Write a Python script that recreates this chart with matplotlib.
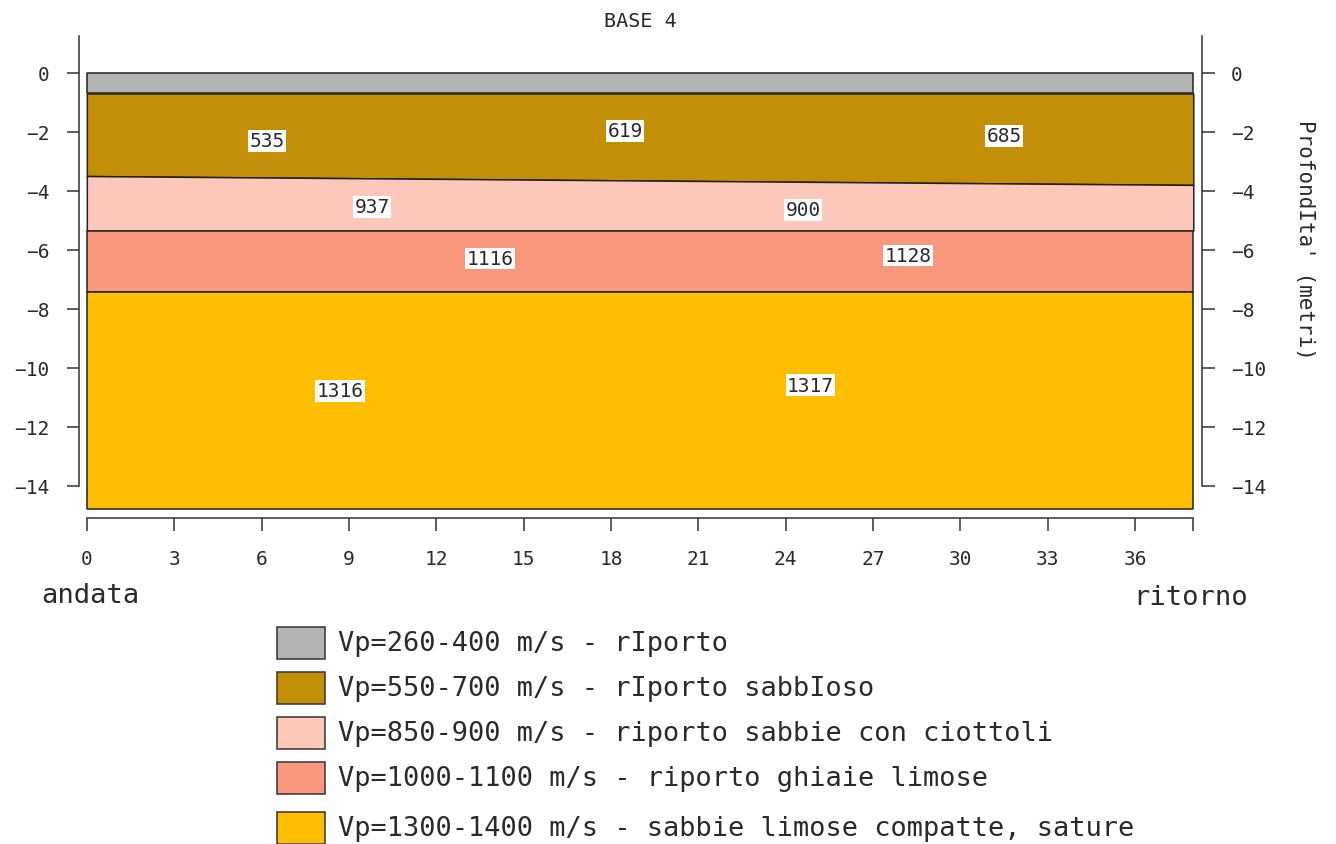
import numpy as np
import matplotlib.pyplot as plt
from matplotlib.patches import Rectangle

# section geometry (distance along the line, metres)
x_pts = [0, 19, 38]

# interface depths below the surface at each x point
surface = [0.0, 0.0, 0.0]
base_riporto = [-0.7, -0.7, -0.7]
base_sabbioso = [-3.5, -3.65, -3.8]
base_ciottoli = [-5.35, -5.35, -5.35]
base_ghiaie = [-7.45, -7.45, -7.45]
base_sature = [-14.8, -14.8, -14.8]

layer_colors = ['#b4b4b4', '#c48f08', '#fdc7b9', '#f9987d', '#ffbe00']
layer_labels = [
    "Vp=260-400 m/s - rIporto",
    "Vp=550-700 m/s - rIporto sabbIoso",
    "Vp=850-900 m/s - riporto sabbie con ciottoli",
    "Vp=1000-1100 m/s - riporto ghiaie limose",
    "Vp=1300-1400 m/s - sabbie limose compatte, sature",
]

# velocity values written inside the layers: (x, depth, value)
vel_x = [6.2, 18.5, 31.5, 9.8, 24.6, 13.85, 28.2, 8.7, 24.85]
vel_y = [-2.3, -1.97, -2.13, -4.54, -4.64, -6.3, -6.2, -10.78, -10.6]
vel_text = ['535', '619', '685', '937', '900', '1116', '1128', '1316', '1317']

x_ticks = list(range(0, 37, 3))
y_ticks = list(range(0, -15, -2))

FONT = 'DejaVu Sans Mono'
INK = '#333333'
TXT = '#2a2a2a'

fig = plt.figure(figsize=(13.36, 8.45), dpi=100)
ax = fig.add_axes([0.0591, 0.3858, 0.8406, 0.5704])

bounds = [surface, base_riporto, base_sabbioso, base_ciottoli, base_ghiaie, base_sature]
for i, color in enumerate(layer_colors):
    ax.fill_between(x_pts, bounds[i + 1], bounds[i], facecolor=color,
                    edgecolor='#222222', linewidth=1.1)

for x, y, t in zip(vel_x, vel_y, vel_text):
    ax.text(x, y, t, ha='center', va='center', fontsize=14, family=FONT,
            color=TXT,
            bbox=dict(facecolor='white', edgecolor='none', pad=1.0))

ax.set_xlim(-0.27, 38.3)
ax.set_ylim(-15.1, 1.25)

ax.spines['top'].set_visible(False)
for side in ['left', 'right', 'bottom']:
    ax.spines[side].set_color(INK)
    ax.spines[side].set_linewidth(1.1)
ax.spines['left'].set_bounds(-14, 1.25)
ax.spines['right'].set_bounds(-14, 1.25)
ax.spines['bottom'].set_bounds(0, 38)

ax.set_xticks(x_ticks + [38])
ax.set_xticklabels([str(v) for v in x_ticks] + [''])
ax.set_yticks(y_ticks)
ax.set_yticklabels([str(v).replace('-', '\u2212') for v in y_ticks])
ax.tick_params(axis='x', direction='out', length=9, width=1.1, color=INK,
               pad=13, labelsize=14, labelcolor=TXT)
ax.tick_params(axis='y', direction='out', length=9, width=1.1, color=INK,
               pad=12, labelsize=14, labelcolor=TXT,
               left=True, right=True, labelleft=True, labelright=True)
for lab in ax.get_xticklabels() + ax.get_yticklabels():
    lab.set_family(FONT)

ax.set_title('BASE 4', fontsize=14.5, family=FONT, color=TXT, pad=7)

fig.text(1305 / 1336, 1 - 240 / 845, "ProfondIta' (metri)", rotation=-90,
         ha='center', va='center', fontsize=15, family=FONT, color=TXT)
fig.text(90 / 1336, 1 - 596 / 845, 'andata', ha='center', va='center',
         fontsize=19.5, family=FONT, color=TXT)
fig.text(1191 / 1336, 1 - 598 / 845, 'ritorno', ha='center', va='center',
         fontsize=19.5, family=FONT, color=TXT)

# legend drawn as a column of swatches below the section
row_y = [644, 689, 734, 779, 829]
for color, label, yc in zip(layer_colors, layer_labels, row_y):
    fig.patches.append(Rectangle((277 / 1336, 1 - (yc + 16) / 845), 48 / 1336, 32 / 845,
                                 transform=fig.transFigure, facecolor=color,
                                 edgecolor='#333333', linewidth=1.1))
    fig.text(338 / 1336, 1 - yc / 845, label, ha='left', va='center',
             fontsize=19.45, family=FONT, color=TXT)

fig.savefig('out.png', dpi=100)
